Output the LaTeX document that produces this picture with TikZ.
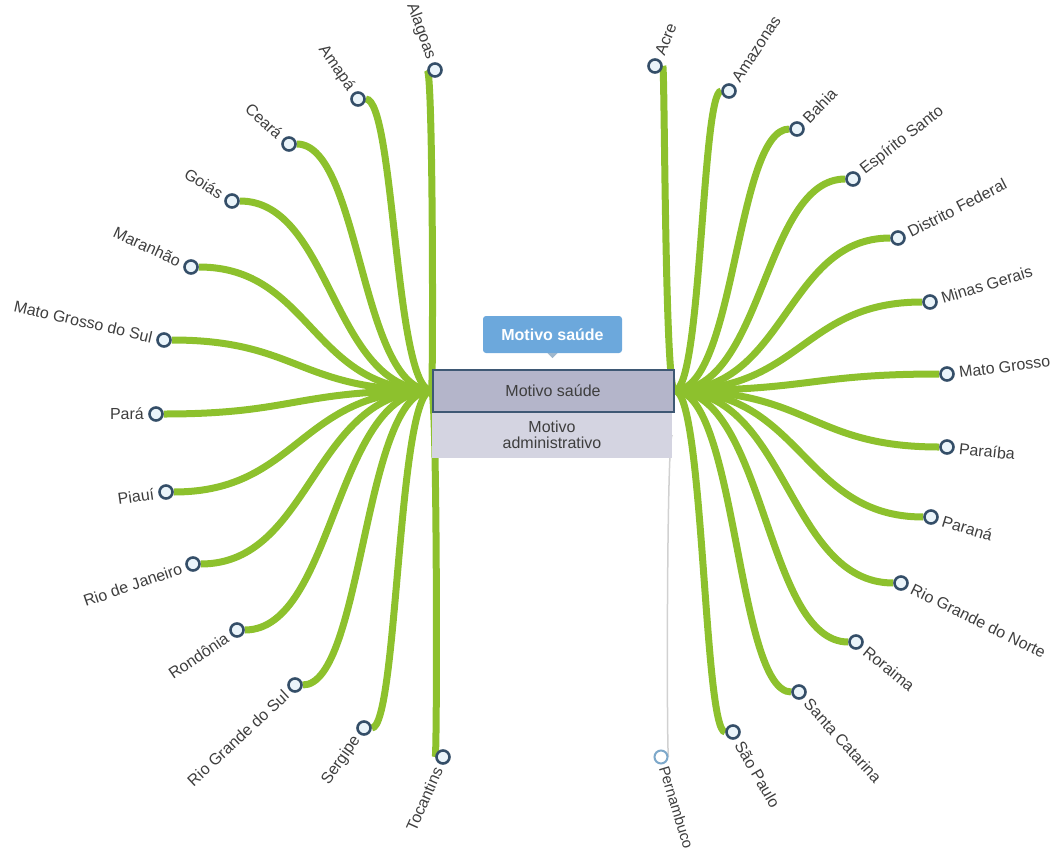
\documentclass[tikz,border=0pt]{standalone}
\usepackage{fontspec}
\setmainfont{Liberation Sans}
\usetikzlibrary{calc,backgrounds}

\definecolor{linkgreen}{RGB}{141,193,45}
\definecolor{ringblue}{RGB}{52,78,104}
\definecolor{ringfill}{RGB}{234,244,250}
\definecolor{palering}{RGB}{125,168,202}
\definecolor{boxtop}{RGB}{180,181,202}
\definecolor{boxlow}{RGB}{212,212,225}
\definecolor{boxedge}{RGB}{62,88,116}
\definecolor{tipblue}{RGB}{108,168,220}
\definecolor{labelgray}{RGB}{62,62,62}

\tikzset{
  leaf/.style={circle, draw=ringblue, line width=2.6pt, fill=ringfill, minimum size=13pt, inner sep=0pt},
  leaflabel/.style={text=labelgray, inner sep=1pt, font=\fontsize{16}{17}\selectfont},
  link/.style={draw=linkgreen, line width=7pt},
  thinlink/.style={draw=black!18, line width=1.5pt},
  boxtext/.style={text=labelgray, align=center, font=\fontsize{16}{16}\selectfont}
}

\begin{document}
\begin{tikzpicture}[x=1pt,y=-1pt]
    \useasboundingbox (0,0) rectangle (1053,849);
    %center boxes
    \node[boxtext, fill=boxlow, minimum width=240pt, minimum height=45pt, inner sep=0pt] (adm) at (552,435) {Motivo\\administrativo};
    \node[boxtext, fill=boxtop, draw=boxedge, line width=2pt, minimum width=241pt, minimum height=42pt, inner sep=0pt] (sau) at (553,390.5) {Motivo saúde};
    %tooltip
    \node[fill=tipblue, text=white, rounded corners=3pt, minimum width=139pt, minimum height=37pt, font=\fontsize{16}{17}\selectfont\bfseries] (tip) at (552.5,334.5) {Motivo saúde};
    \fill[tipblue!60!gray!70] ($(tip.south)+(-5,0)$) -- ($(tip.south)+(0,5)$) -- ($(tip.south)+(5,0)$) -- cycle;

    %left leaves
    \foreach \nm/\px/\py/\ang/\txt in {ala/435/70/-70/Alagoas, ama/358/99/-55/Amapá, cea/289/144/-43/Ceará,
      goi/232/201/-32/Goiás, mar/191/267/-25/Maranhão, mgs/164/340/-13/Mato Grosso do Sul, par/156/414/0/Pará,
      pia/166/492/8/Piauí, rja/193/564/19/Rio de Janeiro, ron/237/630/34/Rondônia, rgs/295/685/43/Rio Grande do Sul,
      ser/364/728/55/Sergipe, toc/443/757/66/Tocantins}
    {
      \node[leaf] (\nm) at (\px,\py) {};
      \node[leaflabel, anchor=east, rotate=\ang] at ($(\nm.center)+(\ang+180:11pt)$) {\txt};
      \begin{pgfonlayer}{background}
        \draw[link] let \p1=(sau.west), \p2=(\nm.center) in (\p1) .. controls ({(\x1+\x2)/2},\y1) and ({(\x1+\x2)/2},\y2) .. (\nm);
      \end{pgfonlayer}
    }

    %right leaves
    \foreach \nm/\px/\py/\ang/\txt in {acr/655/66/68/Acre, amz/729/91/57/Amazonas, bah/797/129/46/Bahia,
      esa/853/179/38/Espírito Santo, dfe/898/238/27/Distrito Federal, mge/930/302/17/Minas Gerais,
      mgr/947/374/7/Mato Grosso, pba/947/447/-6/Paraíba, pna/931/517/-17/Paraná, rgn/901/583/-26/Rio Grande do Norte,
      rrm/856/642/-39/Roraima, sca/799/692/-48/Santa Catarina, spa/733/732/-60/São Paulo}
    {
      \node[leaf] (\nm) at (\px,\py) {};
      \node[leaflabel, anchor=west, rotate=\ang] at ($(\nm.center)+(\ang:11pt)$) {\txt};
      \begin{pgfonlayer}{background}
        \draw[link] let \p1=(sau.east), \p2=(\nm.center) in (\p1) .. controls ({(\x1+\x2)/2},\y1) and ({(\x1+\x2)/2},\y2) .. (\nm);
      \end{pgfonlayer}
    }

    %administrativo leaf
    \node[leaf, draw=palering, fill=white, line width=2pt] (pe) at (661,757) {};
    \node[leaflabel, anchor=west, rotate=-73, font=\fontsize{15}{16}\selectfont] at ($(pe.center)+(-73:9pt)$) {Pernambuco};
    \begin{pgfonlayer}{background}
      \draw[thinlink] let \p1=(adm.east), \p2=(pe.center) in (\p1) .. controls ({(\x1+\x2)/2},\y1) and ({(\x1+\x2)/2},\y2) .. (pe);
    \end{pgfonlayer}
\end{tikzpicture}
\end{document}
